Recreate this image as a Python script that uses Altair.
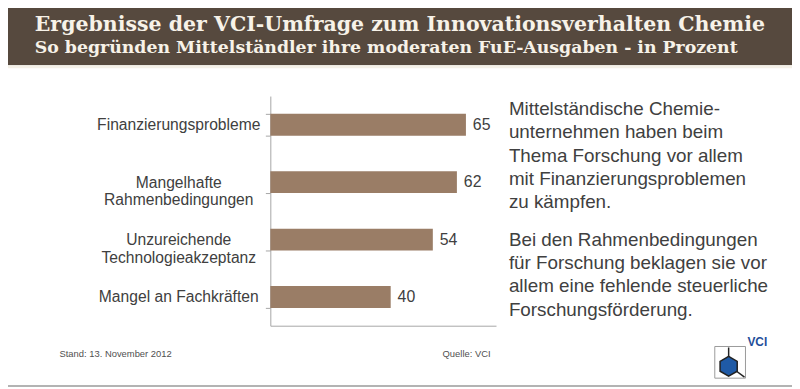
import altair as alt
import pandas as pd

# ---- data ----
categories = [
    "Finanzierungsprobleme",
    "Mangelhafte\nRahmenbedingungen",
    "Unzureichende\nTechnologieakzeptanz",
    "Mangel an Fachkräften",
]
values = [65, 62, 54, 40]

header_title = "Ergebnisse der VCI-Umfrage zum Innovationsverhalten Chemie"
header_subtitle = "So begründen Mittelständler ihre moderaten FuE-Ausgaben - in Prozent"
para1_lines = [
    "Mittelständische Chemie-",
    "unternehmen haben beim",
    "Thema Forschung vor allem",
    "mit Finanzierungsproblemen",
    "zu kämpfen.",
]
para2_lines = [
    "Bei den Rahmenbedingungen",
    "für Forschung beklagen sie vor",
    "allem eine fehlende steuerliche",
    "Forschungsförderung.",
]
footer_left = "Stand: 13. November 2012"
footer_mid = "Quelle: VCI"
logo_text = "VCI"

df = pd.DataFrame({"cat": categories, "val": values})
one = pd.DataFrame({"k": [0]})

TXT = "#404040"
BAR = "#9a7d66"
FONT = "Liberation Sans"

yenc = alt.Y(
    "cat:N",
    sort=categories,
    scale=alt.Scale(paddingInner=0.62, paddingOuter=0.31),
    axis=alt.Axis(
        title=None,
        labelExpr="split(datum.label, '\\n')",
        labelFont=FONT,
        labelFontSize=15.8,
        labelColor=TXT,
        labelLineHeight=17.7,
        labelPadding=88,
        labelAlign="center",
        tickBand="extent",
        tickSize=5,
        tickColor="#a6a6a6",
        domainColor="#a6a6a6",
    ),
)
xenc = alt.X(
    "val:Q",
    scale=alt.Scale(domain=[0, 75], nice=False),
    axis=alt.Axis(title=None, labels=False, ticks=False, grid=False, domainColor="#a6a6a6"),
)

bars = alt.Chart(df).mark_bar(color=BAR).encode(x=xenc, y=yenc)
vals = alt.Chart(df).mark_text(
    align="left", baseline="middle", dx=7, font=FONT, fontSize=16, color=TXT
).encode(x=xenc, y=yenc, text="val:Q")

base = alt.Chart(one)
header = base.mark_rect(color="#56493e").encode(
    x=alt.value(-273), x2=alt.value(527), y=alt.value(-95), y2=alt.value(-31)
)
strip = base.mark_rect(color="#f4f0e7").encode(
    x=alt.value(-273), x2=alt.value(527), y=alt.value(-31), y2=alt.value(-28)
)
t1 = base.mark_text(
    text=header_title, align="left", baseline="alphabetic",
    font="DejaVu Serif", fontWeight="bold", fontSize=20.7, color="#f7f2e8",
).encode(x=alt.value(-238), y=alt.value(-66))
t2 = base.mark_text(
    text=header_subtitle, align="left", baseline="alphabetic",
    font="DejaVu Serif", fontWeight="bold", fontSize=17.5, color="#f7f2e8",
).encode(x=alt.value(-238), y=alt.value(-43))

p1 = base.mark_text(
    text=para1_lines, align="left", baseline="alphabetic", lineHeight=23.6,
    font=FONT, fontSize=19, color=TXT,
).encode(x=alt.value(241), y=alt.value(19))
p2 = base.mark_text(
    text=para2_lines, align="left", baseline="alphabetic", lineHeight=23.6,
    font=FONT, fontSize=19, color=TXT,
).encode(x=alt.value(241), y=alt.value(151))

f1 = base.mark_text(
    text=footer_left, align="left", baseline="alphabetic",
    font=FONT, fontSize=9.5, color="#505050",
).encode(x=alt.value(-213), y=alt.value(264))
f2 = base.mark_text(
    text=footer_mid, align="left", baseline="alphabetic",
    font=FONT, fontSize=9.5, color="#505050",
).encode(x=alt.value(174), y=alt.value(264))

bottom_line = base.mark_rule(color="#b3b3b3", strokeWidth=2).encode(
    x=alt.value(-273), x2=alt.value(527), y=alt.value(293)
)

# logo
logo_box = base.mark_rect(fill="white", stroke="#9a9a9a", strokeWidth=1).encode(
    x=alt.value(449), x2=alt.value(480), y=alt.value(253), y2=alt.value(285)
)
logo_stem = base.mark_rule(color="#222222", strokeWidth=1.5).encode(
    x=alt.value(463), y=alt.value(254), y2=alt.value(264)
)
logo_tail = base.mark_rule(color="#222222", strokeWidth=1.5).encode(
    x=alt.value(471), x2=alt.value(479), y=alt.value(278), y2=alt.value(284)
)
logo_hex = base.mark_point(
    shape="M0,-1L0.866,-0.5L0.866,0.5L0,1L-0.866,0.5L-0.866,-0.5Z",
    filled=True, fill="#1f5aa6", stroke="#222222", strokeWidth=1.5, opacity=1,
    size=400,
).encode(x=alt.value(463), y=alt.value(273))
logo_vci = base.mark_text(
    text=logo_text, align="left", baseline="top", font=FONT,
    fontWeight="bold", fontSize=12, color="#1f4e9a",
).encode(x=alt.value(482), y=alt.value(244))

chart = alt.layer(
    header, strip, t1, t2, bars, vals, p1, p2, f1, f2, bottom_line,
    logo_box, logo_stem, logo_tail, logo_hex, logo_vci,
).properties(
    width=228,
    height=232,
    padding={"left": 265, "top": 87, "right": 299, "bottom": 62},
    autosize=alt.AutoSizeParams(type="none"),
    background="white",
).configure_view(stroke=None)

chart.save("out.html", embed_options={"renderer": "svg", "actions": False})
